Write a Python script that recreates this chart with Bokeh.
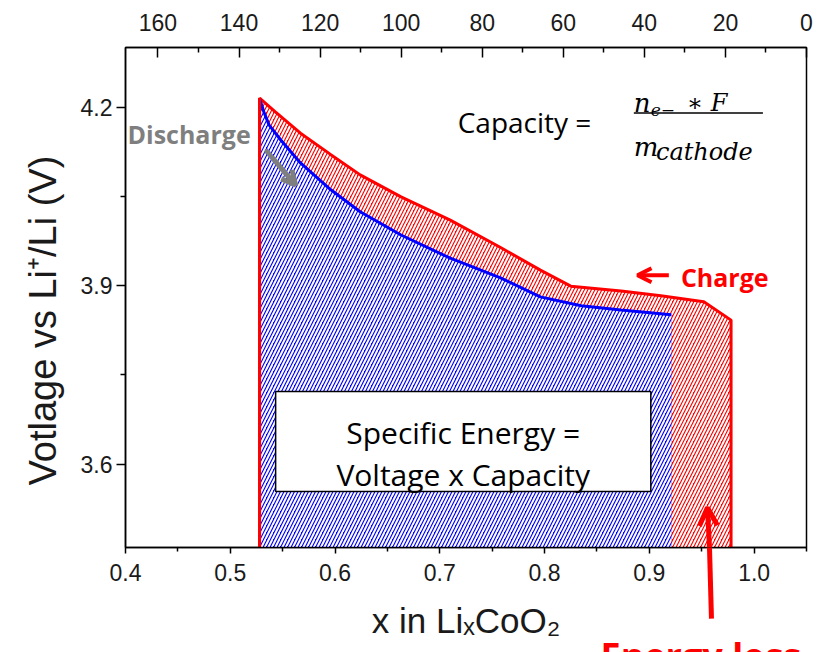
from bokeh.plotting import figure
from bokeh.models import (Range1d, LinearAxis, FixedTicker, Label, Arrow,
                          OpenHead, BoxAnnotation, NumeralTickFormatter)
from bokeh.core.properties import value
from bokeh.embed import file_html
from bokeh.resources import INLINE

# ---- data ----
discharge_x = [0.528, 0.532, 0.537, 0.548, 0.567, 0.596, 0.624, 0.663, 0.710,
               0.758, 0.796, 0.835, 0.873, 0.921]
discharge_v = [4.214, 4.192, 4.170, 4.145, 4.106, 4.061, 4.024, 3.985, 3.946,
               3.913, 3.881, 3.866, 3.859, 3.851]
charge_x = [0.528, 0.543, 0.567, 0.596, 0.624, 0.663, 0.710, 0.758, 0.796,
            0.825, 0.873, 0.911, 0.952, 0.978]
charge_v = [4.215, 4.192, 4.156, 4.120, 4.086, 4.049, 4.010, 3.964, 3.926,
            3.899, 3.891, 3.883, 3.873, 3.842]

x_ticks = [0.4, 0.5, 0.6, 0.7, 0.8, 0.9, 1.0]
x_minor = [0.45, 0.55, 0.65, 0.75, 0.85, 0.95, 1.05]
y_ticks = [3.6, 3.9, 4.2]
y_minor = [3.45, 3.75, 4.05]
cap_ticks = [0, 20, 40, 60, 80, 100, 120, 140, 160]
cap_minor = [10, 30, 50, 70, 90, 110, 130, 150]

X0, X1 = 0.4, 1.05
Y0, Y1 = 3.46, 4.30

FONT = "Liberation Sans"
CAL = "Open Sans"
MATH = "DejaVu Serif"

p = figure(width=815, height=652, x_range=Range1d(X0, X1), y_range=Range1d(Y0, Y1),
           output_backend="svg", toolbar_location=None,
           min_border_left=125, min_border_right=9, min_border_top=47,
           min_border_bottom=105)
p.grid.visible = False
p.outline_line_color = "black"
p.outline_line_width = 1.5
p.background_fill_color = "white"
p.border_fill_color = "white"

# ---- filled regions ----
cx = [charge_x[0]] + charge_x + [charge_x[-1]]
cy = [Y0 - 0.1] + charge_v + [Y0 - 0.1]
p.patch(cx, cy, fill_color="red", line_color="red", line_width=3,
        hatch_pattern="/", hatch_color="white", hatch_weight=2, hatch_scale=7)

dx = [discharge_x[0]] + discharge_x + [discharge_x[-1]]
dy = [Y0 - 0.1] + discharge_v + [Y0 - 0.1]
p.patch(dx, dy, fill_color="blue", line_color=None,
        hatch_pattern="/", hatch_color="white", hatch_weight=2, hatch_scale=7)
p.line(discharge_x, discharge_v, line_color="blue", line_width=3)
p.line([charge_x[0], charge_x[0]], [Y0 - 0.1, charge_v[0]], line_color="red", line_width=3)

# ---- axes ----
xa = p.xaxis[0]
xa.ticker = FixedTicker(ticks=x_ticks, minor_ticks=x_minor)
xa.formatter = NumeralTickFormatter(format="0.0")
xa.axis_label = "x in LiₓCoO₂"
ya = p.yaxis[0]
ya.ticker = FixedTicker(ticks=y_ticks, minor_ticks=y_minor)
ya.formatter = NumeralTickFormatter(format="0.0")

p.extra_x_ranges = {"cap": Range1d(168, 0)}
top = LinearAxis(x_range_name="cap", ticker=FixedTicker(ticks=cap_ticks, minor_ticks=cap_minor))
p.add_layout(top, "above")

for ax in (xa, ya, top):
    ax.major_label_text_font = FONT
    ax.major_label_text_font_size = "23px"
    ax.major_label_text_color = "#1a1a1a"
    ax.axis_label_text_font = FONT
    ax.axis_label_text_font_size = "35px"
    ax.axis_label_text_font_style = "normal"
    ax.axis_label_text_color = "#1a1a1a"
    ax.axis_line_width = 1.5
    ax.major_tick_line_width = 1.5
    ax.minor_tick_line_width = 1.5
    ax.axis_line_color = "black"

xa.major_tick_out = 6
xa.major_tick_in = 0
xa.minor_tick_out = 4
xa.minor_tick_in = 0
xa.major_label_standoff = 10
xa.axis_label_standoff = 17

ya.major_tick_out = 9
ya.major_tick_in = 0
ya.minor_tick_out = 5
ya.minor_tick_in = 0
ya.major_label_standoff = 4

top.major_tick_out = 0
top.major_tick_in = 10
top.minor_tick_out = 0
top.minor_tick_in = 5
top.major_label_standoff = 17

# y-axis title: overlay text so it can sit a little below the frame centre, as in the reference
p.text(x=[0.3217], y=[3.8413], text=["Votlage vs Li⁺/Li (V)"], angle=1.5708,
       text_font=value(FONT), text_font_size="38px", text_color="#1a1a1a",
       text_align="center", text_baseline="middle", level="overlay")

# ---- annotations ----
p.add_layout(Label(x=0.7171, y=4.175, text="Capacity =", text_font=CAL,
                   text_font_size="28px", text_color="black", text_baseline="alphabetic"))
p.add_layout(Label(x=0.8852, y=4.2069, text="n", text_font=MATH, text_color="black",
                   text_font_style="italic", text_font_size="26px", text_baseline="alphabetic"))
p.add_layout(Label(x=0.9014, y=4.195, text="e−", text_font=MATH, text_color="black",
                   text_font_style="italic", text_font_size="17px", text_baseline="alphabetic"))
p.add_layout(Label(x=0.9358, y=4.2069, text="∗ F", text_font=MATH, text_color="black",
                   text_font_style="italic", text_font_size="24px", text_baseline="alphabetic"))
p.segment(x0=[0.8852], y0=[4.190], x1=[1.0084], y1=[4.190], line_color="black", line_width=1.5)
p.add_layout(Label(x=0.8852, y=4.133, text="m", text_font=MATH, text_color="black",
                   text_font_style="italic", text_font_size="26px", text_baseline="alphabetic"))
p.add_layout(Label(x=0.9063, y=4.1246, text="cathode", text_font=MATH, text_color="black",
                   text_font_style="italic", text_font_size="24px", text_baseline="alphabetic"))

p.add_layout(Label(x=0.4019, y=4.1548, text="Discharge", text_font=CAL,
                   text_font_style="bold", text_font_size="25px", text_color="#7f7f7f",
                   text_baseline="middle"))
p.add_layout(Arrow(x_start=0.5337, y_start=4.128, x_end=0.5624, y_end=4.069,
                   line_color="#7f7f7f", line_width=5,
                   end=OpenHead(line_color="#7f7f7f", line_width=5, size=14)))

p.add_layout(Label(x=0.9301, y=3.9146, text="Charge", text_font=CAL,
                   text_font_style="bold", text_font_size="25px", text_color="red",
                   text_baseline="middle"))
p.add_layout(Arrow(x_start=0.9186, y_start=3.9175, x_end=0.8887, y_end=3.9175,
                   line_color="red", line_width=4,
                   end=OpenHead(line_color="red", line_width=4, size=14)))

p.add_layout(BoxAnnotation(left=0.5433, right=0.9014, bottom=3.554, top=3.7219,
                           fill_color="white", fill_alpha=1.0, line_color="black",
                           line_width=1.5, line_alpha=1.0))
p.add_layout(Label(x=0.7223, y=3.6525, text="Specific Energy =", text_font=CAL,
                   text_color="black", text_font_size="30px", text_align="center",
                   text_baseline="alphabetic"))
p.add_layout(Label(x=0.7223, y=3.5819, text="Voltage x Capacity", text_font=CAL,
                   text_color="black", text_font_size="30px", text_align="center",
                   text_baseline="alphabetic"))

p.add_layout(Arrow(x_start=0.9574, y_start=Y0, x_end=0.9555, y_end=3.527,
                   line_color="red", line_width=5,
                   end=OpenHead(line_color="red", line_width=5, size=18)))
p.segment(x0=[0.9593], y0=[3.3406], x1=[0.9574], y1=[Y0], line_color="red",
          line_width=5, level="overlay")
p.text(x=[0.8534], y=[3.3205], text=["Energy loss"], text_font=value(CAL),
       text_font_style="bold", text_font_size="36px", text_color="red",
       text_baseline="top", level="overlay")

open("out.html", "w").write(file_html(p, INLINE))
